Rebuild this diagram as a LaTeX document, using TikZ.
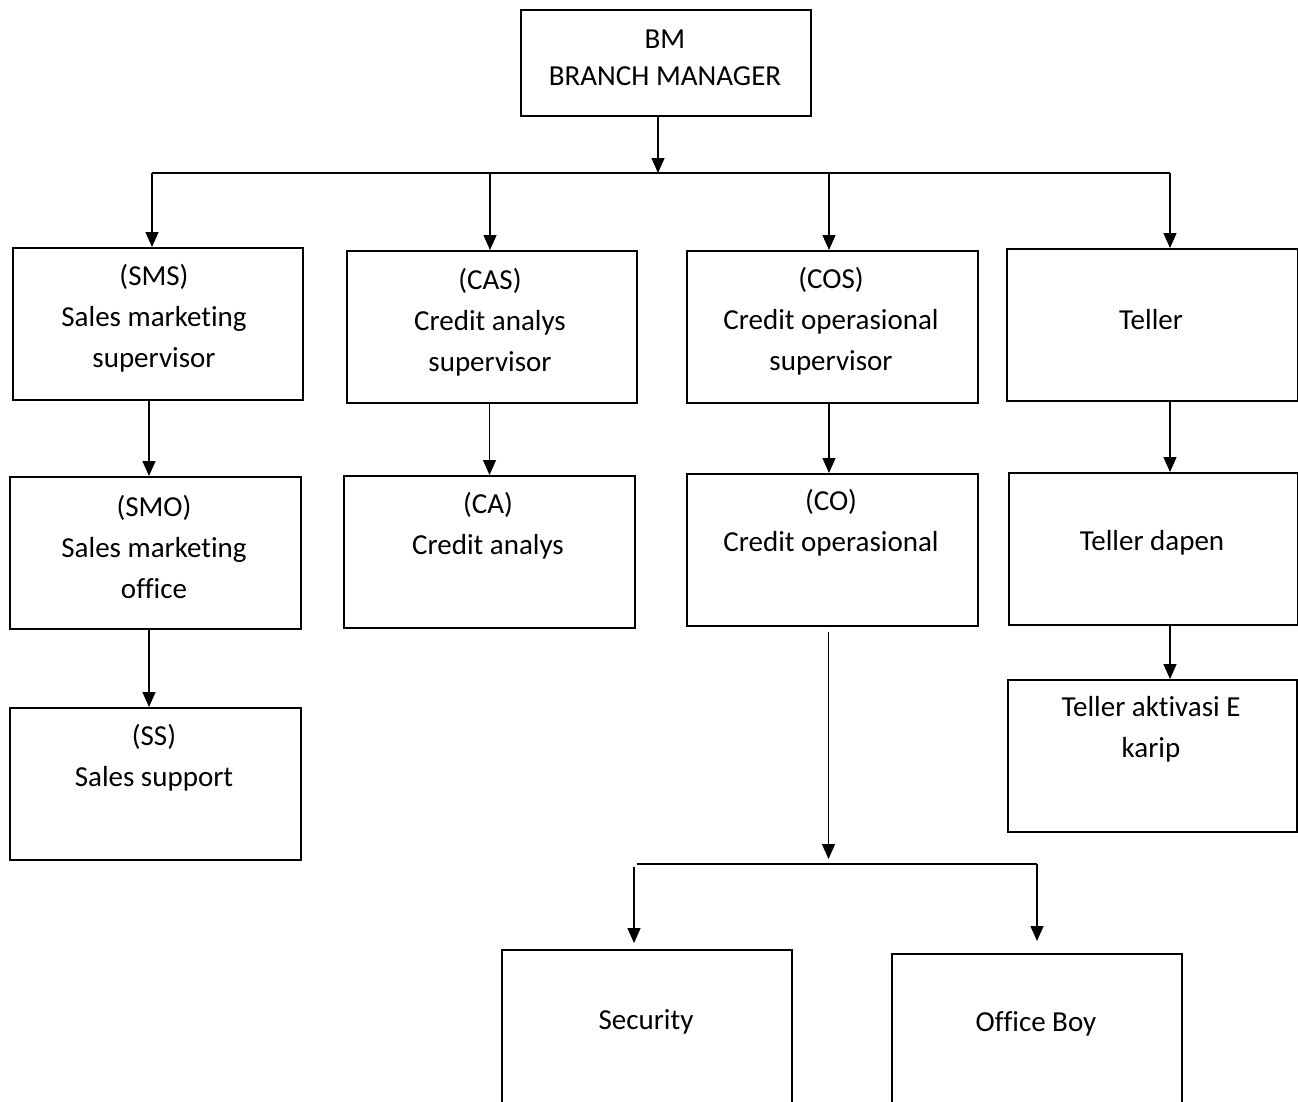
\documentclass[tikz,border=0pt]{standalone}
\usepackage{fontspec}
\setmainfont{Carlito}[Ligatures=NoCommon]
\usetikzlibrary{arrows.meta}
\begin{document}
\begin{tikzpicture}[x=1pt,y=-1pt,
  box/.style={draw, line width=1.6pt, inner sep=0pt, anchor=north west},
  lbl/.style={align=center, inner sep=0pt, font=\fontsize{29}{41}\selectfont},
  arr/.style={line width=1.3pt, -{Triangle[length=15pt,width=13pt]}},
  bar/.style={line width=1.8pt}]
\useasboundingbox (0,0) rectangle (1298,1101);
\clip (0,0) rectangle (1298,1101);

% boxes
\node[box, minimum width=290pt, minimum height=106pt] (bm)  at (520,9) {};
\node[box, minimum width=290pt, minimum height=152pt] (sms) at (12,247) {};
\node[box, minimum width=290pt, minimum height=152pt] (cas) at (346,250) {};
\node[box, minimum width=291pt, minimum height=152pt] (cos) at (686,250) {};
\node[box, minimum width=290.5pt, minimum height=152pt] (tel) at (1006,248) {};
\node[box, minimum width=291pt, minimum height=152pt] (smo) at (9,476) {};
\node[box, minimum width=291pt, minimum height=152pt] (ca)  at (343,475) {};
\node[box, minimum width=291pt, minimum height=152pt] (co)  at (686,473) {};
\node[box, minimum width=289pt, minimum height=152pt] (tdp) at (1008,472) {};
\node[box, minimum width=291pt, minimum height=152pt] (ss)  at (9,707) {};
\node[box, minimum width=289pt, minimum height=152pt] (tak) at (1007,679) {};
\node[box, minimum width=290pt, minimum height=170pt] (sec) at (501,949) {};
\node[box, minimum width=290pt, minimum height=170pt] (ob)  at (891,953) {};

% texts
\node[lbl, font=\fontsize{29}{37}\selectfont] (bmT) at (665,58) {BM\\BRANCH MANAGER};
\node[lbl] (smsT) at (154,318) {(SMS)\\Sales marketing\\supervisor};
\node[lbl] (casT) at (490,322) {(CAS)\\Credit analys\\supervisor};
\node[lbl] (cosT) at (831,321) {(COS)\\Credit operasional\\supervisor};
\node[lbl] (telT) at (1151,320) {Teller};
\node[lbl] (smoT) at (154,547) {(SMO)\\Sales marketing\\office};
\node[lbl] (caT)  at (488,526) {(CA)\\Credit analys};
\node[lbl] (coT)  at (831,523) {(CO)\\Credit operasional};
\node[lbl] (tdpT) at (1152,543) {Teller dapen};
\node[lbl] (ssT)  at (154,758) {(SS)\\Sales support};
\node[lbl] (takT) at (1151,729) {Teller aktivasi E\\karip};
\node[lbl] (secT) at (646,1022) {Security};
\node[lbl] (obT)  at (1036,1024) {Office Boy};

% coordinates
\coordinate (h1) at (658,173);
\coordinate (b1) at (152,173);
\coordinate (b2) at (490,173);
\coordinate (b3) at (829,173);
\coordinate (b4) at (1170,173);
\coordinate (v1) at (149,0);
\coordinate (v2) at (489.5,0);
\coordinate (v3) at (829,0);
\coordinate (v4) at (1170,0);
\coordinate (h2) at (828.5,864);
\coordinate (c1) at (636.5,864);
\coordinate (c2) at (1037,864);
\coordinate (d1) at (634,867);

% connectors
\draw[arr] (h1 |- bm.south) -- (h1);
\draw[bar] (b1) -- (b4);
\draw[arr] (b1) -- (b1 |- sms.north);
\draw[arr] (b2) -- (b2 |- cas.north);
\draw[arr] (b3) -- (b3 |- cos.north);
\draw[arr] (b4) -- (b4 |- tel.north);

\draw[arr] (v1 |- sms.south) -- (v1 |- smo.north);
\draw[arr] (v1 |- smo.south) -- (v1 |- ss.north);
\draw[arr] (v2 |- cas.south) -- (v2 |- ca.north);
\draw[arr] (v3 |- cos.south) -- (v3 |- co.north);
\draw[arr] (v4 |- tel.south) -- (v4 |- tdp.north);
\draw[arr] (v4 |- tdp.south) -- (v4 |- tak.north);

\draw[arr] ([yshift=-5pt]h2 |- co.south) -- ([yshift=5pt]h2);
\draw[bar] (c1) -- (c2);
\draw[arr] (d1) -- ([yshift=6pt]d1 |- sec.north);
\draw[arr] (c2) -- ([yshift=12pt]c2 |- ob.north);
\end{tikzpicture}
\end{document}
